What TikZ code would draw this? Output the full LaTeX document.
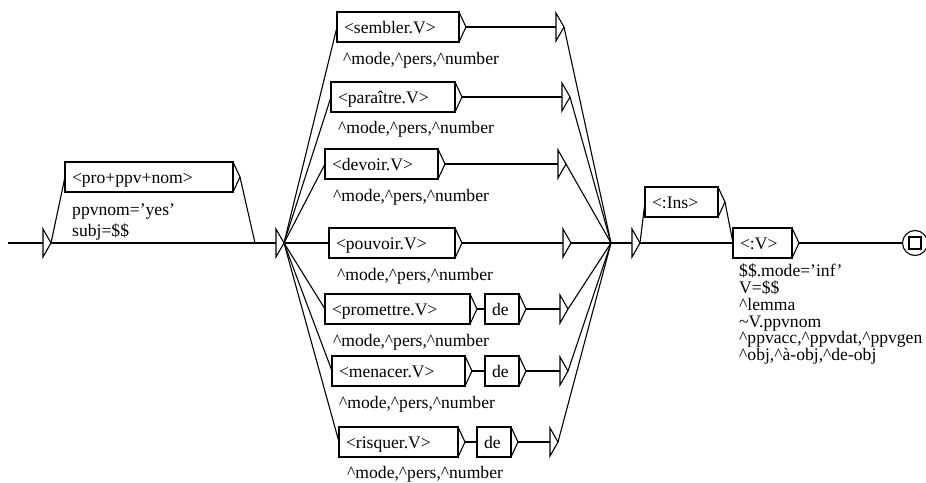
\documentclass[tikz,border=0pt]{standalone}
\usepackage{fontspec}
\setmainfont{Liberation Serif}
\newcommand\gfont{\fontsize{17.6}{20}\selectfont}
\newcommand\crt{\textasciicircum}
\tikzset{
 gline/.style={line width=1.1pt, line join=miter},
 vbox/.style={draw, line width=1.1pt, rectangle, anchor=west, minimum height=30pt, inner xsep=7pt, inner ysep=0pt, outer sep=0pt, text height=14pt, text depth=2pt, align=left, font=\gfont},
 otext/.style={anchor=base west, inner sep=0pt, font=\gfont},
 finstate/.style={draw, circle, line width=1.1pt, minimum size=25pt, inner sep=0pt, outer sep=0pt},
}
\newcommand\gtip[1]{\draw[gline] (#1.north east) -- ++(7,15) coordinate (#1-t) -- (#1.south east);}
\newcommand\gE[3]{\coordinate (#1) at (#2,#3); \draw[gline] (#2,#3-14) -- (#2+8,#3) coordinate (#1-t) -- (#2,#3+14) -- cycle;}
\begin{document}
\begin{tikzpicture}[x=1pt,y=-1pt]
\useasboundingbox (0,0) rectangle (926,482);
% initial state
\coordinate (start) at (8,243);
\gE{init}{43}{243}
\draw[gline] (start) -- (init);
% first optional box
\node[vbox, text width=154pt] (A) at (65,177) {<pro+ppv+nom>};
\gtip{A}
\node[otext] (Ao1) at (72,215) {ppvnom='yes'};
\node[otext] (Ao2) at (72,236) {subj=\$\$};
\coordinate (E1in) at (255,243);
\gE{E1}{276}{243}
\draw[gline] (init-t) -- (A.west);
\draw[gline] (A-t) -- (E1in);
\draw[gline] (init-t) -- (E1);
% verb boxes
\node[vbox, text width=108pt] (s) at (337,27) {<sembler.V>};
\node[vbox, text width=110pt] (p) at (331,97) {<paraître.V>};
\node[vbox, text width=99pt]  (d) at (325,164) {<devoir.V>};
\node[vbox, text width=112pt] (o) at (329,243) {<pouvoir.V>};
\node[vbox, text width=131pt] (r) at (325,309) {<promettre.V>};
\node[vbox, text width=20pt]  (r2) at (485,309) {de};
\node[vbox, text width=119pt] (m) at (332,371) {<menacer.V>};
\node[vbox, text width=20pt]  (m2) at (485,371) {de};
\node[vbox, text width=105pt] (q) at (339,442) {<risquer.V>};
\node[vbox, text width=20pt]  (q2) at (477,442) {de};
\foreach \b in {s,p,d,o,r,r2,m,m2,q,q2} {\gtip{\b}}
\node[otext] (so) at (343,64)  {\crt mode,\crt pers,\crt number};
\node[otext] (po) at (338,133) {\crt mode,\crt pers,\crt number};
\node[otext] (do) at (333,201) {\crt mode,\crt pers,\crt number};
\node[otext] (oo) at (337,280) {\crt mode,\crt pers,\crt number};
\node[otext] (ro) at (333,346) {\crt mode,\crt pers,\crt number};
\node[otext] (mo) at (339,408) {\crt mode,\crt pers,\crt number};
\node[otext] (qo) at (347,478) {\crt mode,\crt pers,\crt number};
\foreach \b in {s,p,d,o,r,m,q} {\draw[gline] (E1-t) -- (\b.west);}
% right-hand empty boxes
\gE{Es}{556}{27}
\gE{Ep}{562}{97}
\gE{Ed}{558}{164}
\gE{Eo}{563}{243}
\gE{Er}{560}{309}
\gE{Em}{560}{371}
\gE{Eq}{550}{442}
\draw[gline] (s-t) -- (Es);
\draw[gline] (p-t) -- (Ep);
\draw[gline] (d-t) -- (Ed);
\draw[gline] (o-t) -- (Eo);
\draw[gline] (r-t) -- (r2.west);
\draw[gline] (r2-t) -- (Er);
\draw[gline] (m-t) -- (m2.west);
\draw[gline] (m2-t) -- (Em);
\draw[gline] (q-t) -- (q2.west);
\draw[gline] (q2-t) -- (Eq);
\coordinate (c2) at (611,243);
\foreach \e in {Es,Ep,Ed,Eo,Er,Em,Eq} {\draw[gline] (\e-t) -- (c2);}
\gE{E2}{632}{243}
\draw[gline] (c2) -- (E2);
% insert and verb
\node[vbox, text width=59pt] (ins) at (645,202) {<:Ins>};
\gtip{ins}
\node[vbox, text width=45pt] (v) at (733,243) {<:V>};
\gtip{v}
\draw[gline] (E2-t) -- (ins.west);
\draw[gline] (E2-t) -- (v.west);
\draw[gline] (ins-t) -- (v.west);
\node[otext] (vo1) at (739,276) {\$\$.mode='inf'};
\node[otext] (vo2) at (739,293) {V=\$\$};
\node[otext] (vo3) at (739,310) {\crt lemma};
\node[otext] (vo4) at (739,327) {\textasciitilde V.ppvnom};
\node[otext] (vo5) at (739,343) {\crt ppvacc,\crt ppvdat,\crt ppvgen};
\node[otext] (vo6) at (739,360) {\crt obj,\crt à-obj,\crt de-obj};
% final state
\node[finstate] (fin) at (915,243) {};
\draw[gline] (fin.center) ++(-6,-6) rectangle ++(12,12);
\draw[gline] (v-t) -- (fin.west);
\end{tikzpicture}
\end{document}
